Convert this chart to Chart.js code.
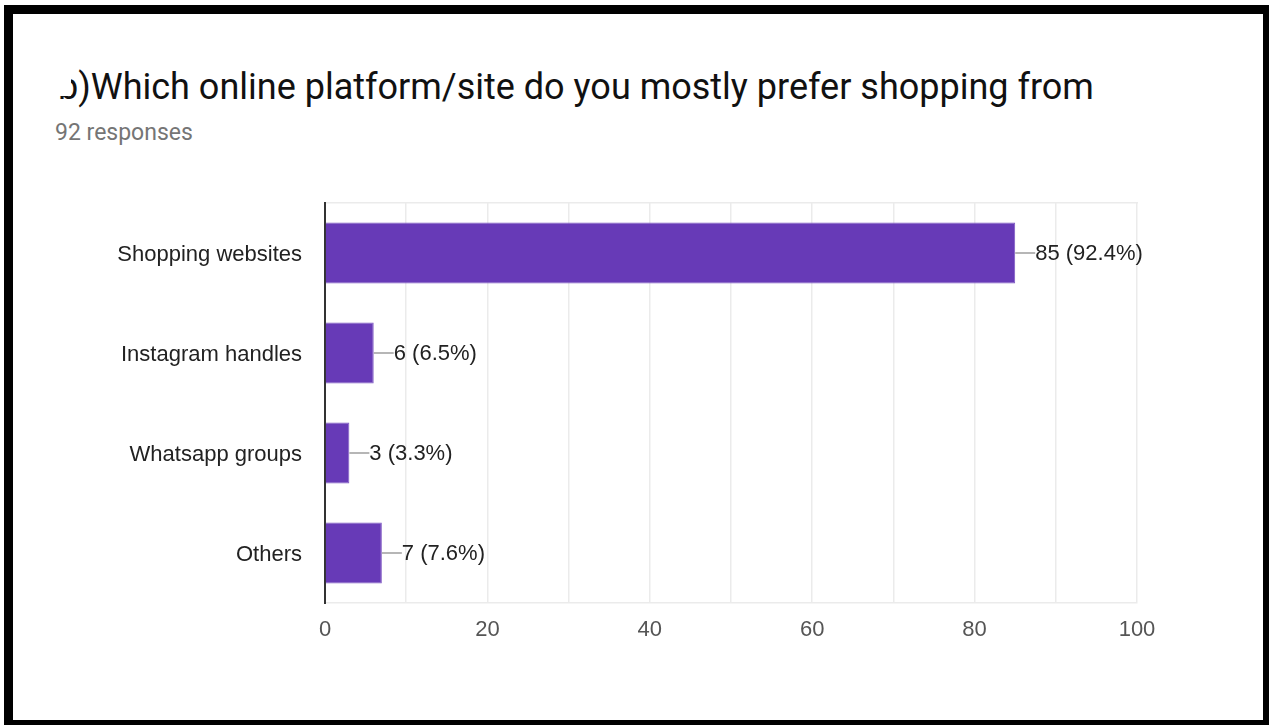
<!DOCTYPE html>
<html>
<head>
<meta charset="utf-8">
<script src="https://cdn.jsdelivr.net/npm/chart.js@4/dist/chart.umd.min.js"></script>
<style>
  html, body { margin: 0; padding: 0; background: #fff; }
  body { width: 1269px; height: 725px; position: relative; overflow: hidden; }
  #frame {
    position: absolute; left: 4px; top: 5px; right: 0; bottom: 0;
    border-style: solid; border-color: #000;
    border-width: 9px 6px 5px 9px;
  }
  #title {
    position: absolute; left: 58px; top: 63px;
    font-family: Roboto, sans-serif; font-size: 36px; color: #111;
    white-space: nowrap; line-height: 48px;
  }
  #cut { position: absolute; left: 54px; top: 68px; width: 17px; height: 28px; background: #fff; }
  #sub {
    position: absolute; left: 55px; top: 119px;
    font-family: Roboto, sans-serif; font-size: 23px; color: #757575;
    white-space: nowrap; line-height: 28px;
  }
  #chart { position: absolute; left: 0; top: 0; }
</style>
</head>
<body>
<div id="frame"></div>
<div id="title">b)Which online platform/site do you mostly prefer shopping from</div>
<div id="cut"></div>
<div id="sub">92 responses</div>
<canvas id="chart" width="1269" height="725"></canvas>

<script>
// Antwortdaten
const options = ["Shopping websites", "Instagram handles", "Whatsapp groups", "Others"];
const counts = [85, 6, 3, 7];
const percents = ["92.4%", "6.5%", "3.3%", "7.6%"];
const xTicks = [0, 20, 40, 60, 80, 100];

const labelFont = { family: "'Liberation Sans', Arial, sans-serif", size: 22 };

// Wert-Beschriftung mit kurzer Führungslinie rechts neben dem Balken
const valueLabels = {
    id: "valueLabels",
    afterDatasetsDraw(chart) {
        const ctx = chart.ctx;
        const bars = chart.getDatasetMeta(0).data;
        ctx.save();
        ctx.font = "22px " + labelFont.family;
        ctx.textAlign = "left";
        ctx.textBaseline = "middle";
        bars.forEach((bar, i) => {
            ctx.strokeStyle = "#9e9e9e";
            ctx.lineWidth = 1.5;
            ctx.beginPath();
            ctx.moveTo(bar.x, bar.y);
            ctx.lineTo(bar.x + 20, bar.y);
            ctx.stroke();
            ctx.fillStyle = "#222";
            ctx.fillText(counts[i] + " (" + percents[i] + ")", bar.x + 20, bar.y + 1);
        });
        ctx.restore();
    }
};

new Chart(document.getElementById("chart"), {
    type: "bar",
    data: {
        labels: options,
        datasets: [{
            data: counts,
            backgroundColor: "#673ab7",
            borderColor: "#7e57c2",
            borderWidth: { top: 1, bottom: 1, left: 0, right: 1 },
            barPercentage: 0.61,
            categoryPercentage: 1
        }]
    },
    options: {
        indexAxis: "y",
        responsive: false,
        animation: false,
        layout: { padding: { top: 203, right: 132, left: 0, bottom: 0 } },
        plugins: {
            legend: { display: false },
            tooltip: { enabled: false }
        },
        scales: {
            x: {
                min: 0,
                max: 100,
                ticks: {
                    stepSize: 10,
                    padding: 14,
                    color: "#555",
                    font: labelFont,
                    callback: v => xTicks.includes(v) ? v : ""
                },
                grid: { color: "#ebebeb", lineWidth: 1.5, drawTicks: false },
                border: { color: "#ebebeb", width: 1.5 },
                afterFit: s => { s.height = 122; }
            },
            x2: {
                position: "top",
                min: 0,
                max: 100,
                ticks: { display: false },
                grid: { display: false, drawTicks: false },
                border: { color: "#ebebeb", width: 1.5 },
                afterFit: s => { s.height = 0; }
            },
            y: {
                ticks: { color: "#222", font: labelFont, padding: 23, labelOffset: 2 },
                grid: { display: false, drawTicks: false },
                border: { color: "#333", width: 2 },
                afterFit: s => { s.width = 325; }
            }
        }
    },
    plugins: [valueLabels]
});
</script>
</body>
</html>
